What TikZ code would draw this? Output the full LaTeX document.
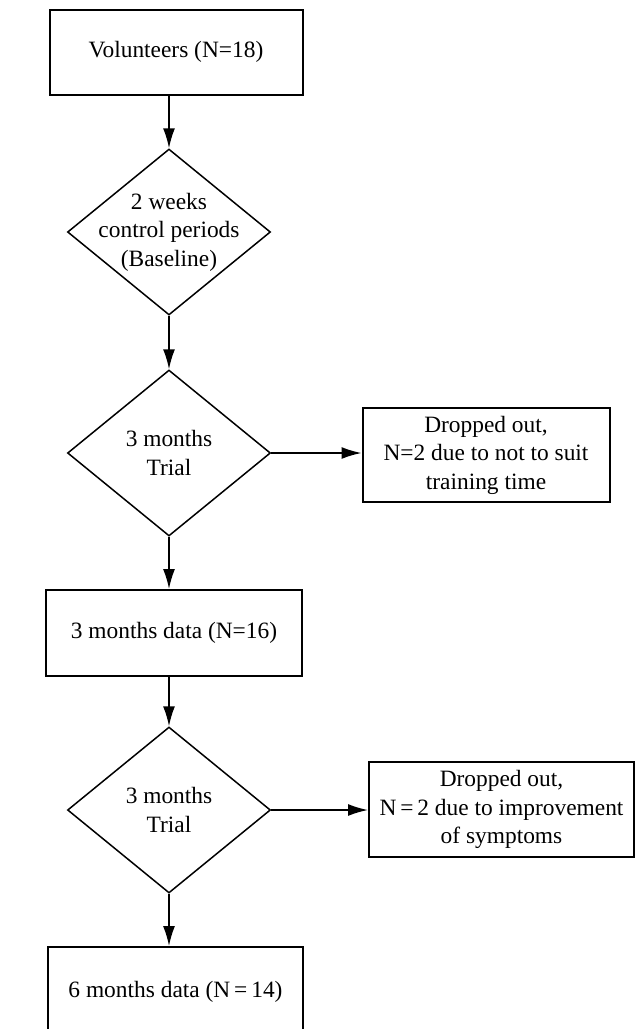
\documentclass[tikz,border=0pt]{standalone}
\usepackage{fontspec}
\setmainfont{Liberation Serif}
\usetikzlibrary{arrows.meta}
\usetikzlibrary{shapes.geometric}
\tikzset{
  every node/.style = {black, align=center, font=\fontsize{11.7}{14.2}\selectfont},
  box/.style = {rectangle, draw=black, line width=1pt},
  decision/.style = {diamond, draw=black, line width=0.75pt, aspect=1.23, inner sep=-5pt,
    minimum width=101.5pt, minimum height=83pt},
}

\begin{document}
\begin{tikzpicture}[x=0.5pt,y=-0.5pt,->,>={Latex[length=10pt,width=6pt]},line width=0.8pt]
            \useasboundingbox (0,0) rectangle (635,1029);
            % main column
            \node[box, minimum width=126.5pt, minimum height=42.5pt] (volunteers) at (176,52)
                {Volunteers (N=18)};
            \node[decision] (baseline) at (169,232)
                {2 weeks\\control periods\\(Baseline)};
            \node[decision] (trial1) at (169,453)
                {3 months\\Trial};
            \node[box, minimum width=128pt, minimum height=43pt] (data3) at (174,633)
                {3 months data (N=16)};
            \node[decision] (trial2) at (169,810)
                {3 months\\Trial};
            \node[box, minimum width=127.5pt, minimum height=45pt] (data6) at (175.5,992)
                {6 months data (N\,=\,14)};
            % drop outs
            \node[box, minimum width=123.5pt, minimum height=47pt] (drop1) at (486,455)
                {Dropped out,\\N=2 due to not to suit\\training time};
            \node[box, minimum width=132.5pt, minimum height=47.5pt] (drop2) at (501.5,809.5)
                {Dropped out,\\N\,=\,2 due to improvement\\of symptoms};
            % arrows
            \draw (baseline.north |- volunteers.south) -- (baseline.north);
            \draw (baseline.south) -- (trial1.north);
            \draw (trial1.south) -- (trial1.south |- data3.north);
            \draw (trial2.north |- data3.south) -- (trial2.north);
            \draw (trial2.south) -- (trial2.south |- data6.north);
            \draw (trial1.east) -- (trial1.east -| drop1.west);
            \draw (trial2.east) -- (trial2.east -| drop2.west);
\end{tikzpicture}
\end{document}
